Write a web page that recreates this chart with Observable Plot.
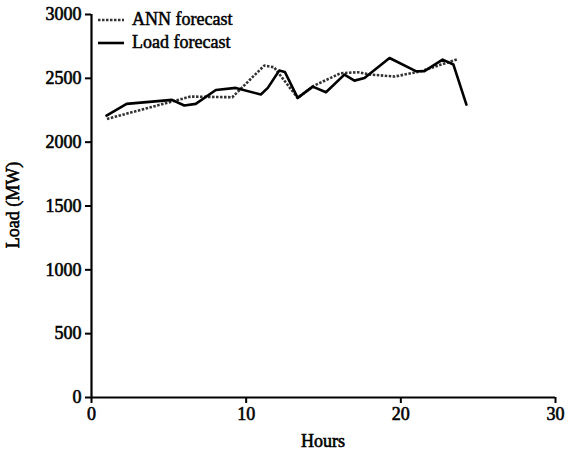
<!DOCTYPE html>
<html>
<head>
<meta charset="utf-8">
<script src="https://cdn.jsdelivr.net/npm/d3@7"></script>
<script src="https://cdn.jsdelivr.net/npm/@observablehq/plot@0.6"></script>
<style>
  html, body { margin: 0; padding: 0; background: #fff; }
  #wrap { position: relative; width: 568px; height: 457px; }
  #legend { position: absolute; left: 98px; top: 8px; font: 18px "Liberation Serif", serif; color: #000;
            -webkit-text-stroke: 0.5px #000; }
  #legend .row { display: flex; align-items: center; height: 23px; }
  #legend svg { margin-right: 8px; }
  svg text { stroke: #000; stroke-width: 0.6px; }
</style>
</head>
<body>
<div id="wrap"><div id="legend"></div></div>
<script>
// Load forecast (solid) — vertices
const loadHours = [0.97, 2.27, 5.2, 6.0, 6.74, 8.04, 9.33, 10.95, 11.4, 12.14, 12.5, 13.33, 14.3, 15.16, 16.35, 17.0, 17.65, 19.27, 21.0, 21.5, 22.7, 23.4, 24.24];
const loadValues = [2208, 2300, 2331, 2287, 2300, 2409, 2425, 2373, 2425, 2561, 2550, 2347, 2435, 2391, 2529, 2482, 2503, 2659, 2555, 2555, 2647, 2608, 2294];
// ANN forecast (dashed)
const annHours = [1.0, 6.4, 9.1, 11.17, 11.8, 13.33, 14.4, 16.1, 17.2, 18.1, 19.6, 21.3, 22.6, 23.7];
const annValues = [2182, 2357, 2352, 2600, 2587, 2347, 2443, 2540, 2548, 2529, 2514, 2555, 2608, 2651];
const xTicks = [0, 10, 20, 30];
const yTicks = [0, 500, 1000, 1500, 2000, 2500, 3000];

const load = loadHours.map((h, i) => ({h, v: loadValues[i]}));
const ann = annHours.map((h, i) => ({h, v: annValues[i]}));

const font = '"Liberation Serif", "Times New Roman", serif';

const chart = Plot.plot({
  width: 568,
  height: 457,
  marginLeft: 91,
  marginRight: 13,
  marginTop: 14,
  marginBottom: 60,
  style: {fontFamily: font, fontSize: "18px", color: "#000", background: "#fff"},
  x: {domain: [0, 30]},
  y: {domain: [0, 3000]},
  marks: [
    Plot.axisX({ticks: xTicks, tickSize: 6, tickPadding: 4, tickFormat: d3.format("d"),
      label: null, strokeWidth: 2}),
    Plot.axisY({ticks: yTicks, tickSize: 6, tickPadding: 4, tickFormat: d3.format("d"),
      label: null, strokeWidth: 2}),
    Plot.ruleX([0], {strokeWidth: 2.2}),
    Plot.ruleY([0], {strokeWidth: 2.2}),
    Plot.line(ann, {x: "h", y: "v", stroke: "#333", strokeWidth: 2.6, strokeDasharray: "2.5,1.5", strokeLinecap: "butt"}),
    Plot.line(load, {x: "h", y: "v", stroke: "#000", strokeWidth: 2.6})
  ]
});

const svg = d3.select(chart);
svg.append("text").attr("x", 91 + 232).attr("y", 447)
  .attr("text-anchor", "middle").attr("font-size", 18).attr("font-family", font)
  .text("Hours");
svg.append("text").attr("transform", "translate(19,205) rotate(-90)")
  .attr("text-anchor", "middle").attr("font-size", 18).attr("font-family", font)
  .text("Load (MW)");

document.getElementById("wrap").prepend(chart);

const legend = d3.select("#legend");
[["ANN forecast", "2.5,1.5", "#333"], ["Load forecast", null, "#000"]].forEach(([name, dash, color]) => {
  const row = legend.append("div").attr("class", "row");
  const s = row.append("svg").attr("width", 26).attr("height", 10);
  const l = s.append("line").attr("x1", 0).attr("x2", 26).attr("y1", 5).attr("y2", 5)
    .attr("stroke", color).attr("stroke-width", 2.6);
  if (dash) l.attr("stroke-dasharray", dash);
  row.append("span").text(name);
});
</script>
</body>
</html>
